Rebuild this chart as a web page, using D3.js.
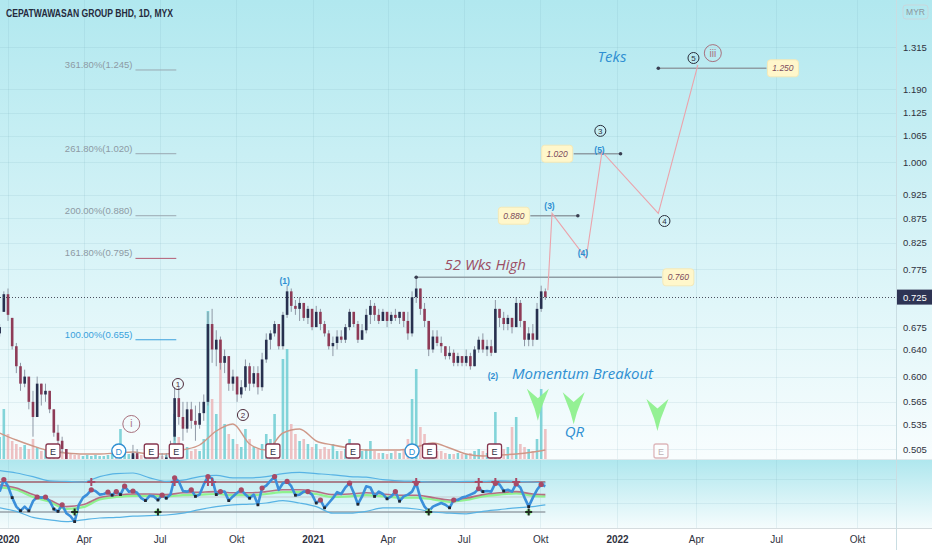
<!DOCTYPE html>
<html>
<head>
<meta charset="utf-8">
<script src="https://cdn.jsdelivr.net/npm/d3@7"></script>
<style>
  body { margin: 0; background: #ffffff; }
  svg { display: block; font-family: "Liberation Sans", Arial, sans-serif; }
</style>
</head>
<body>
<div id="chart"></div>
<script>
// ---- candles, one every 5 calendar days starting 22 Dec 2019 ----
var CANDLE_START = "2019-12-22";
var CANDLE_STEP_DAYS = 5;
var OPEN = [0.665,0.70,0.73,0.69,0.645,0.615,0.59,0.60,0.565,0.545,
  0.59,0.575,0.58,0.555,0.525,0.515,0.505,0.48,0.455,0.43,
  0.40,0.41,0.425,0.43,0.44,0.445,0.45,0.455,0.46,0.455,
  0.465,0.47,0.485,0.50,0.485,0.475,0.48,0.475,0.485,0.49,
  0.485,0.495,0.52,0.57,0.545,0.53,0.555,0.54,0.535,0.55,
  0.565,0.68,0.64,0.655,0.62,0.63,0.59,0.60,0.575,0.585,
  0.615,0.59,0.605,0.585,0.625,0.655,0.665,0.68,0.645,0.695,
  0.735,0.71,0.705,0.715,0.69,0.705,0.675,0.70,0.68,0.665,
  0.645,0.65,0.66,0.655,0.675,0.70,0.68,0.655,0.67,0.695,
  0.71,0.695,0.685,0.70,0.685,0.695,0.69,0.70,0.685,0.665,
  0.725,0.74,0.705,0.685,0.64,0.66,0.65,0.645,0.63,0.635,
  0.62,0.63,0.62,0.63,0.615,0.64,0.655,0.64,0.645,0.635,
  0.705,0.69,0.68,0.69,0.675,0.715,0.685,0.655,0.665,0.655,
  0.705,0.735];
var HIGH = [0.68,0.735,0.74,0.69,0.65,0.62,0.61,0.595,0.58,0.60,
  0.59,0.59,0.58,0.555,0.535,0.52,0.505,0.49,0.465,0.44,
  0.42,0.43,0.44,0.45,0.45,0.46,0.465,0.47,0.47,0.47,
  0.48,0.49,0.51,0.505,0.49,0.485,0.49,0.49,0.495,0.50,
  0.50,0.515,0.585,0.585,0.565,0.565,0.565,0.56,0.565,0.575,
  0.70,0.705,0.67,0.66,0.64,0.63,0.61,0.60,0.595,0.625,
  0.62,0.615,0.615,0.635,0.665,0.67,0.685,0.68,0.70,0.745,
  0.74,0.72,0.725,0.715,0.71,0.705,0.71,0.705,0.685,0.67,
  0.66,0.67,0.67,0.68,0.705,0.70,0.685,0.68,0.705,0.72,
  0.715,0.705,0.705,0.70,0.70,0.705,0.70,0.70,0.70,0.735,
  0.76,0.74,0.715,0.685,0.67,0.67,0.66,0.645,0.645,0.64,
  0.635,0.63,0.64,0.635,0.645,0.66,0.665,0.655,0.655,0.72,
  0.705,0.70,0.695,0.69,0.725,0.72,0.685,0.675,0.68,0.715,
  0.745,0.74];
var LOW = [0.66,0.70,0.685,0.64,0.605,0.58,0.585,0.555,0.52,0.545,
  0.56,0.565,0.55,0.52,0.51,0.50,0.475,0.45,0.42,0.39,
  0.385,0.40,0.415,0.42,0.43,0.435,0.44,0.445,0.45,0.45,
  0.455,0.465,0.48,0.48,0.47,0.465,0.47,0.47,0.475,0.48,
  0.48,0.49,0.515,0.535,0.515,0.525,0.53,0.515,0.53,0.54,
  0.56,0.62,0.615,0.61,0.605,0.58,0.58,0.565,0.57,0.58,
  0.58,0.585,0.575,0.58,0.62,0.64,0.66,0.64,0.64,0.69,
  0.70,0.695,0.685,0.685,0.68,0.67,0.675,0.67,0.66,0.64,
  0.63,0.64,0.65,0.65,0.67,0.675,0.65,0.655,0.665,0.68,
  0.685,0.68,0.685,0.675,0.68,0.685,0.68,0.675,0.655,0.66,
  0.715,0.695,0.675,0.63,0.635,0.645,0.635,0.625,0.625,0.615,
  0.615,0.615,0.615,0.61,0.615,0.635,0.635,0.63,0.63,0.635,
  0.675,0.67,0.67,0.665,0.675,0.675,0.645,0.645,0.645,0.655,
  0.70,0.72];
var CLOSE = [0.675,0.73,0.695,0.645,0.615,0.59,0.60,0.565,0.545,0.59,
  0.575,0.58,0.555,0.525,0.515,0.505,0.48,0.455,0.43,0.40,
  0.41,0.425,0.43,0.44,0.445,0.45,0.455,0.46,0.455,0.465,
  0.47,0.485,0.50,0.485,0.475,0.48,0.475,0.485,0.49,0.485,
  0.495,0.51,0.57,0.545,0.53,0.555,0.54,0.535,0.55,0.565,
  0.68,0.64,0.655,0.62,0.63,0.59,0.60,0.575,0.585,0.615,
  0.59,0.605,0.585,0.625,0.655,0.665,0.68,0.645,0.695,0.735,
  0.71,0.705,0.715,0.69,0.705,0.675,0.70,0.68,0.665,0.645,
  0.65,0.66,0.655,0.675,0.70,0.68,0.655,0.67,0.695,0.71,
  0.695,0.685,0.70,0.685,0.695,0.69,0.70,0.685,0.665,0.725,
  0.74,0.705,0.685,0.64,0.66,0.65,0.645,0.63,0.635,0.62,
  0.63,0.62,0.63,0.615,0.64,0.655,0.64,0.645,0.635,0.705,
  0.69,0.68,0.69,0.675,0.715,0.685,0.655,0.665,0.655,0.705,
  0.735,0.725];
var VOLUME = [22,50,25,18,15,12,14,10,20,12, 8,10,8,10,14,8,6,5,4,4,
  3,4,3,4,3,3,4,5,8,30, 6,5,4,3,4,3,3,4,3,3,
  4,12,45,22,15,12,8,10,8,20, 148,60,45,120,35,25,20,15,12,30,
  20,12,10,15,25,20,45,15,100,110, 35,25,18,20,15,12,15,10,12,10,
  15,8,8,10,20,12,8,8,10,18, 8,6,6,5,6,8,6,10,20,60,
  90,32,25,15,10,8,8,6,5,5, 6,5,5,6,8,10,8,6,8,47,
  15,10,12,32,42,15,12,10,8,20, 70,30];
// oscillator in the lower pane, one value per candle
var OSC = [59,79,68,49,34,27,34,27,43,50, 49,50,43,30,26,37,23,18,9,37,
  49,54,62,60,54,55,58,53,59,54, 68,59,60,57,48,44,52,51,45,53,
  48,54,82,76,60,59,62,51,54,71, 84,81,54,59,59,44,51,57,62,54,
  48,54,37,65,69,77,84,62,73,76, 68,53,54,59,59,54,40,45,32,40,
  48,58,55,66,73,57,38,51,68,66, 51,59,55,47,51,59,43,51,54,59,
  73,48,34,26,34,37,40,37,32,45, 45,49,51,54,57,64,59,60,59,73,
  71,60,62,59,72,66,49,34,49,62, 71,68];
var OSC_PEAKS = [1,9,11,15,22,26,28,30,32,39,42,46,50,53,58,63,66,69,74,77,84,95,100,109,115,119,124,130];
var OSC_TROUGHS = [3,5,7,13,14,18,27,29,35,38,40,47,52,55,60,62,71,76,78,86,90,93,96,103,108,116,121,127];
var OSC_OB_CROSS = [22,42,50,51,100,115,119,124];
var OSC_OS_CROSS = [18,38,103,127];
var OSC_LEVELS = [75, 50, 25];
// smoother series, sampled every 4th candle plus the last one
var UPPER_BAND = [94,90,84,77,76,75,84,89,90,82,76,78,84,86,82,82,84,89,91,89,87,84,83,79,77,76,75,75,76,76,77,76,75,73];
var LOWER_BAND = [32,26,16,12,9,12,15,16,18,19,20,23,29,34,37,38,40,44,40,34,23,23,26,32,32,30,25,23,22,26,29,32,34,37];
var RED_MA = [70,65,54,45,34,37,49,53,55,55,54,57,58,59,57,57,59,62,62,59,54,55,57,55,53,53,49,45,48,54,57,59,55,54];
var GREEN_MA = [66,62,50,42,30,33,46,50,52,52,51,53,54,55,53,53,55,58,58,55,50,51,53,51,49,49,46,42,45,51,54,56,52,51];
var VOL_MA = [26,19,13,8,6,5,5,6,7,5,5,9,14,28,35,15,9,26,30,18,14,11,9,9,9,12,16,11,5,3,4,5,7,9];

// ---- axes ----
var PRICE_TICKS = [1.315,1.190,1.125,1.065,1.000,0.925,0.875,0.825,0.775,0.675,0.640,0.600,0.565,0.535,0.505];
var OSC_TICKS = [80, 40, 0];
var TIME_TICKS = ["2020-01-01","2020-04-01","2020-07-01","2020-10-01","2021-01-01","2021-04-01","2021-07-01","2021-10-01","2022-01-01","2022-04-01","2022-07-01","2022-10-01"];
var TIME_LABELS = ["2020","Apr","Jul","Okt","2021","Apr","Jul","Okt","2022","Apr","Jul","Okt"];

// ---- drawings ----
var EARNINGS = ["2020-02-24","2020-06-21","2020-07-21","2020-11-14","2021-02-18","2021-05-21","2021-08-07"];
var EARNINGS_NEXT = ["2022-02-20"];
var DIVIDENDS = ["2020-05-13","2021-04-30"];
var FIB_PCT = ["361.80%","261.80%","200.00%","161.80%","100.00%"];
var FIB_PRICE = [1.245, 1.020, 0.880, 0.795, 0.655];
var FIB_FROM = "2020-06-02", FIB_TO = "2020-07-21";
var WAVE_DATES = ["2021-10-10","2021-10-15","2021-11-25","2021-12-14","2022-02-17","2022-04-03"];
var WAVE_PRICES = [0.737, 0.885, 0.795, 1.025, 0.885, 1.26];
var HLINE_PRICE = [0.760, 0.880, 1.020, 1.250];
var HLINE_FROM = ["2021-05-05","2021-09-19","2021-11-10","2022-02-17"];
var HLINE_TO = ["2022-02-21","2021-11-15","2022-01-05","2022-06-20"];
var ARROW_DATES = ["2021-09-28","2021-11-10","2022-02-16"];
var ARROW_PRICES = [0.583, 0.578, 0.569];
var LABELS = [
  { text: "(1)", date: "2020-11-28", price: 0.753, kind: "wave" },
  { text: "(2)", date: "2021-08-05", price: 0.601, kind: "wave" },
  { text: "(3)", date: "2021-10-12", price: 0.901, kind: "wave" },
  { text: "(4)", date: "2021-11-21", price: 0.805, kind: "wave" },
  { text: "(5)", date: "2021-12-11", price: 1.029, kind: "wave" },
  { text: "3", date: "2021-12-12", price: 1.077, kind: "circle" },
  { text: "4", date: "2022-02-24", price: 0.869, kind: "circle" },
  { text: "5", date: "2022-03-29", price: 1.281, kind: "circle" },
  { text: "1", date: "2020-07-23", price: 0.5895, kind: "circleDark" },
  { text: "2", date: "2020-10-09", price: 0.5476, kind: "circleDark" },
  { text: "iii", date: "2022-04-20", price: 1.296, kind: "roman" },
  { text: "i", date: "2020-05-28", price: 0.536, kind: "roman" },
  { text: "Teks", date: "2021-12-26", price: 1.284, kind: "note" },
  { text: "Momentum Breakout", date: "2021-08-28", price: 0.604, kind: "noteLeft" },
  { text: "QR", date: "2021-11-11", price: 0.526, kind: "note" },
  { text: "52 Wks High", date: "2021-06-08", price: 0.783, kind: "noteRed" }
];

function drawChart() {
  var W = 932, H = 550;
  var plotRight = 896;
  var mainBottom = 459, indTop = 460, indBottom = 528;
  var parse = d3.timeParse("%Y-%m-%d");

  var candleStart = parse(CANDLE_START);
  var dates = CLOSE.map(function (d, i) { return d3.timeDay.offset(candleStart, i * CANDLE_STEP_DAYS); });
  var sampleIdx = d3.range(0, CLOSE.length, 4).concat([CLOSE.length - 1]);
  var sampleDates = sampleIdx.map(function (i) { return dates[i]; });

  // tradingview spaces the future part a little wider
  var x = d3.scaleTime()
    .domain([parse("2020-01-01"), parse("2022-01-01"), parse("2022-10-01")])
    .range([8, 617, 857]);
  var y = d3.scaleLog().domain([0.505, 1.315]).range([449, 47]);
  var yOsc = d3.scaleLinear().domain([0, 80]).range([527, 479]);
  var yVol = d3.scaleLinear().domain([0, 150]).range([mainBottom, mainBottom - 150]);

  var svg = d3.select("#chart").append("svg").attr("width", W).attr("height", H);
  var defs = svg.append("defs");
  function gradient(id, c0, c1) {
    var g = defs.append("linearGradient").attr("id", id)
      .attr("x1", 0).attr("y1", 0).attr("x2", 0).attr("y2", 1);
    g.append("stop").attr("offset", "0%").attr("stop-color", c0);
    g.append("stop").attr("offset", "100%").attr("stop-color", c1);
  }
  gradient("bgMain", "#b1e8ef", "#f8fdfe");
  gradient("bgInd", "#afe7ee", "#f5fcfd");
  defs.append("clipPath").attr("id", "clipMain").append("rect")
    .attr("x", 0).attr("y", 0).attr("width", plotRight).attr("height", mainBottom);
  defs.append("clipPath").attr("id", "clipInd").append("rect")
    .attr("x", 0).attr("y", indTop).attr("width", plotRight).attr("height", indBottom - indTop);
  defs.append("clipPath").attr("id", "clipIndAxis").append("rect")
    .attr("x", plotRight).attr("y", indTop).attr("width", W - plotRight).attr("height", indBottom - indTop);

  // backgrounds
  svg.append("rect").attr("width", W).attr("height", H).attr("fill", "#ffffff");
  svg.append("rect").attr("width", W).attr("height", mainBottom).attr("fill", "url(#bgMain)");
  svg.append("rect").attr("y", indTop).attr("width", W).attr("height", indBottom - indTop).attr("fill", "url(#bgInd)");

  // grid
  var grid = svg.append("g").attr("stroke", "rgba(110,160,175,0.13)").attr("stroke-width", 1);
  grid.selectAll(".hg").data(PRICE_TICKS).enter().append("line")
    .attr("x1", 0).attr("x2", plotRight)
    .attr("y1", function (d) { return Math.round(y(d)) + 0.5; })
    .attr("y2", function (d) { return Math.round(y(d)) + 0.5; });
  grid.selectAll(".vg").data(TIME_TICKS).enter().append("line")
    .attr("y1", 0).attr("y2", indBottom)
    .attr("x1", function (d) { return Math.round(x(parse(d))) + 0.5; })
    .attr("x2", function (d) { return Math.round(x(parse(d))) + 0.5; });
  grid.selectAll(".ig").data([80, 40]).enter().append("line")
    .attr("x1", 0).attr("x2", plotRight)
    .attr("y1", function (d) { return yOsc(d) + 0.5; })
    .attr("y2", function (d) { return yOsc(d) + 0.5; });

  // ---- main pane ----
  var main = svg.append("g").attr("clip-path", "url(#clipMain)");
  var bw = 2.6;

  // volume
  main.append("g").selectAll("rect").data(VOLUME).enter().append("rect")
    .attr("x", function (d, i) { return x(dates[i]) - bw / 2; })
    .attr("y", function (d) { return yVol(d); })
    .attr("width", bw)
    .attr("height", function (d) { return mainBottom - yVol(d); })
    .attr("fill", function (d, i) { return CLOSE[i] >= OPEN[i] ? "#6fcdd2" : "#ebb6b8"; })
    .attr("opacity", 0.85);
  main.append("path")
    .datum(VOL_MA)
    .attr("fill", "none").attr("stroke", "#cf9888").attr("stroke-width", 1.4)
    .attr("d", d3.line()
      .x(function (d, i) { return x(sampleDates[i]); })
      .y(function (d) { return yVol(d); })
      .curve(d3.curveMonotoneX));

  // candles
  var candles = main.append("g").selectAll("g").data(CLOSE).enter().append("g");
  candles.append("line")
    .attr("x1", function (d, i) { return x(dates[i]); })
    .attr("x2", function (d, i) { return x(dates[i]); })
    .attr("y1", function (d, i) { return y(HIGH[i]); })
    .attr("y2", function (d, i) { return y(LOW[i]); })
    .attr("stroke", "#8f98a6").attr("stroke-width", 1);
  candles.append("rect")
    .attr("x", function (d, i) { return x(dates[i]) - bw / 2; })
    .attr("y", function (d, i) { return Math.min(y(OPEN[i]), y(d)); })
    .attr("width", bw)
    .attr("height", function (d, i) { return Math.max(1, Math.abs(y(OPEN[i]) - y(d))); })
    .attr("fill", function (d, i) { return d >= OPEN[i] ? "#27304f" : "#8e3b57"; });

  // last price dotted line
  var lastPrice = CLOSE[CLOSE.length - 1];
  svg.append("line")
    .attr("x1", 0).attr("x2", plotRight)
    .attr("y1", Math.round(y(lastPrice)) + 0.5).attr("y2", Math.round(y(lastPrice)) + 0.5)
    .attr("stroke", "#4b4f5e").attr("stroke-width", 1).attr("stroke-dasharray", "1,2");

  // fibonacci extension levels
  var fib = svg.append("g");
  FIB_PRICE.forEach(function (p, i) {
    var lineColor = i === 3 ? "#b35c74" : (i === 4 ? "#3aa1dc" : "#9aa8b1");
    var textColor = i === 4 ? "#3aa1dc" : "#8d9aa4";
    fib.append("line")
      .attr("x1", x(parse(FIB_FROM))).attr("x2", x(parse(FIB_TO)))
      .attr("y1", y(p)).attr("y2", y(p))
      .attr("stroke", lineColor).attr("stroke-width", 1);
    fib.append("text")
      .attr("x", x(parse(FIB_FROM)) - 3).attr("y", y(p) - 2)
      .attr("text-anchor", "end").attr("font-size", "9.5px").attr("fill", textColor)
      .text(FIB_PCT[i] + "(" + d3.format(".3f")(p) + ")");
  });

  // horizontal rays with value boxes
  var boxAtEnd = [true, false, false, true];
  var rays = svg.append("g");
  HLINE_PRICE.forEach(function (p, i) {
    var x1 = x(parse(HLINE_FROM[i])), x2 = x(parse(HLINE_TO[i])), yy = y(p);
    rays.append("line").attr("x1", x1).attr("x2", x2).attr("y1", yy).attr("y2", yy)
      .attr("stroke", "#8f9da4").attr("stroke-width", 1.5);
    var dotX = boxAtEnd[i] ? x1 : x2;
    rays.append("circle").attr("cx", dotX).attr("cy", yy).attr("r", 1.8).attr("fill", "#3a3f52");
    var bx = boxAtEnd[i] ? x2 + 1 : x1 - 32;
    rays.append("rect").attr("x", bx).attr("y", yy - 8.5).attr("width", 31).attr("height", 17)
      .attr("rx", 3).attr("fill", "#fff7cb").attr("stroke", "#f4e9b8");
    rays.append("text").attr("x", bx + 15.5).attr("y", yy + 3)
      .attr("text-anchor", "middle").attr("font-size", "8.5px").attr("font-style", "italic")
      .attr("fill", "#7b4b5c").text(d3.format(".3f")(p));
  });

  // projected wave path
  svg.append("path")
    .datum(WAVE_PRICES)
    .attr("fill", "none").attr("stroke", "#eba3ab").attr("stroke-width", 1.1)
    .attr("d", d3.line()
      .x(function (d, i) { return x(parse(WAVE_DATES[i])); })
      .y(function (d) { return y(d); }));

  // green arrow marks
  svg.append("g").selectAll("path").data(ARROW_PRICES).enter().append("path")
    .attr("fill", "#8ef08e").attr("opacity", 0.95)
    .attr("d", function (d, i) {
      var cx = x(parse(ARROW_DATES[i])), t = y(d), w = 22, h = 32;
      return "M" + (cx - w / 2) + "," + t +
        "L" + cx + "," + (t + h * 0.3) +
        "L" + (cx + w / 2) + "," + t +
        "L" + (cx + w * 0.15) + "," + (t + h * 0.62) +
        "L" + cx + "," + (t + h) +
        "L" + (cx - w * 0.15) + "," + (t + h * 0.62) + "Z";
    });

  // labels
  var lab = svg.append("g");
  LABELS.forEach(function (l) {
    var lx = x(parse(l.date)), ly = y(l.price);
    if (l.kind === "wave") {
      lab.append("text").attr("x", lx).attr("y", ly + 3).attr("text-anchor", "middle")
        .attr("font-size", "8.5px").attr("font-weight", "bold").attr("fill", "#2f8fd2").text(l.text);
    } else if (l.kind === "circle" || l.kind === "circleDark") {
      var c = l.kind === "circle" ? "#2a2e3c" : "#4d2a3a";
      lab.append("circle").attr("cx", lx).attr("cy", ly).attr("r", 5.5)
        .attr("fill", "none").attr("stroke", c).attr("stroke-width", 1);
      lab.append("text").attr("x", lx).attr("y", ly + 3).attr("text-anchor", "middle")
        .attr("font-size", "8px").attr("fill", c).text(l.text);
    } else if (l.kind === "roman") {
      lab.append("circle").attr("cx", lx).attr("cy", ly).attr("r", 8.5)
        .attr("fill", "none").attr("stroke", "#a8717e").attr("stroke-width", 1);
      lab.append("text").attr("x", lx).attr("y", ly + 3.5).attr("text-anchor", "middle")
        .attr("font-size", "10px").attr("fill", "#a8717e").text(l.text);
    } else {
      lab.append("text").attr("x", lx).attr("y", ly + 5)
        .attr("text-anchor", l.kind === "note" ? "middle" : "start")
        .attr("font-family", "'Open Sans', sans-serif")
        .attr("font-size", "15px").attr("font-style", "italic")
        .attr("fill", l.kind === "noteRed" ? "#9c4e64" : "#2f8fd2")
        .text(l.text);
    }
  });

  // earnings and dividend markers
  var ev = svg.append("g").attr("font-size", "9px").attr("text-anchor", "middle");
  EARNINGS.concat(EARNINGS_NEXT).forEach(function (d, i) {
    var future = i >= EARNINGS.length;
    var ex = x(parse(d));
    ev.append("rect").attr("x", ex - 7).attr("y", 444).attr("width", 14).attr("height", 14).attr("rx", 2)
      .attr("fill", future ? "rgba(255,255,255,0.6)" : "#ffffff")
      .attr("stroke", future ? "#ddb6ba" : "#86364f").attr("stroke-width", 1.3);
    ev.append("text").attr("x", ex).attr("y", 454.5)
      .attr("fill", future ? "#bdb3b6" : "#2c2f3e").text("E");
  });
  DIVIDENDS.forEach(function (d) {
    var dx = x(parse(d));
    ev.append("circle").attr("cx", dx).attr("cy", 451).attr("r", 7)
      .attr("fill", "#ffffff").attr("stroke", "#2f8fd2").attr("stroke-width", 1.4);
    ev.append("text").attr("x", dx).attr("y", 454.5).attr("fill", "#2f8fd2").text("D");
  });

  // ---- oscillator pane ----
  var ind = svg.append("g").attr("clip-path", "url(#clipInd)");
  var x0 = x(dates[0]), x1 = x(dates[dates.length - 1]);
  var lvlColor = ["#a9808b", "#c3cbcf", "#97a2a8"];
  var lvlWidth = [2, 1, 1.5];
  OSC_LEVELS.forEach(function (v, i) {
    ind.append("line").attr("x1", x0).attr("x2", x1).attr("y1", yOsc(v)).attr("y2", yOsc(v))
      .attr("stroke", lvlColor[i]).attr("stroke-width", lvlWidth[i]);
  });
  var sampleLine = d3.line()
    .x(function (d, i) { return x(sampleDates[i]); })
    .y(function (d) { return yOsc(d); })
    .curve(d3.curveMonotoneX);
  [UPPER_BAND, LOWER_BAND].forEach(function (s) {
    ind.append("path").datum(s).attr("fill", "none").attr("stroke", "#58b3e4")
      .attr("stroke-width", 1.2).attr("d", sampleLine);
  });
  ind.append("path").datum(GREEN_MA).attr("fill", "none").attr("stroke", "#8ff28f")
    .attr("stroke-width", 2.2).attr("d", sampleLine);
  ind.append("path").datum(RED_MA).attr("fill", "none").attr("stroke", "#b0566e")
    .attr("stroke-width", 1.6).attr("opacity", 0.85).attr("d", sampleLine);
  ind.append("path").datum(OSC).attr("fill", "none").attr("stroke", "#3b8fda")
    .attr("stroke-width", 2.6).attr("stroke-linejoin", "round")
    .attr("d", d3.line()
      .x(function (d, i) { return x(dates[i]); })
      .y(function (d) { return yOsc(d); }));
  ind.append("g").selectAll("circle").data(OSC_PEAKS).enter().append("circle")
    .attr("cx", function (i) { return x(dates[i]); })
    .attr("cy", function (i) { return yOsc(OSC[i]); })
    .attr("r", 2.6).attr("fill", "#a84a66");
  ind.append("g").selectAll("rect").data(OSC_TROUGHS).enter().append("rect")
    .attr("x", function (i) { return x(dates[i]) - 1.4; })
    .attr("y", function (i) { return yOsc(OSC[i]) - 1.4; })
    .attr("width", 2.8).attr("height", 2.8).attr("fill", "#22252f");
  function cross(g, cx, cy, color, s) {
    g.append("path").attr("d", "M" + (cx - s) + "," + cy + "H" + (cx + s) + "M" + cx + "," + (cy - s) + "V" + (cy + s))
      .attr("stroke", color).attr("stroke-width", 2);
  }
  OSC_OB_CROSS.forEach(function (i) { cross(ind, x(dates[i]), yOsc(75), "#a84a66", 4); });
  OSC_OS_CROSS.forEach(function (i) {
    ind.append("circle").attr("cx", x(dates[i])).attr("cy", yOsc(25)).attr("r", 3).attr("fill", "#9cf59c");
    cross(ind, x(dates[i]), yOsc(25), "#1f2a22", 3.5);
  });

  // pane separators
  svg.append("line").attr("x1", 0).attr("x2", W).attr("y1", mainBottom + 0.5).attr("y2", mainBottom + 0.5)
    .attr("stroke", "#e1e9ec");
  svg.append("line").attr("x1", 0).attr("x2", W).attr("y1", indBottom + 0.5).attr("y2", indBottom + 0.5)
    .attr("stroke", "#d5dcdf");
  svg.append("line").attr("x1", plotRight + 0.5).attr("x2", plotRight + 0.5).attr("y1", 0).attr("y2", H)
    .attr("stroke", "#c9dde2");

  // ---- axes ----
  var yAxis = svg.append("g").attr("transform", "translate(" + plotRight + ",0)")
    .call(d3.axisRight(y).tickValues(PRICE_TICKS).tickFormat(d3.format(".3f")).tickSize(0).tickPadding(7));
  yAxis.select(".domain").remove();
  yAxis.selectAll("text").attr("font-size", "9.5px").attr("fill", "#2f3240")
    .attr("font-family", "'Liberation Sans', Arial, sans-serif");

  var oAxis = svg.append("g").attr("transform", "translate(" + plotRight + ",0)")
    .attr("clip-path", "url(#clipIndAxis)")
    .call(d3.axisRight(yOsc).tickValues(OSC_TICKS).tickFormat(d3.format(".1f")).tickSize(0).tickPadding(7));
  oAxis.select(".domain").remove();
  oAxis.selectAll("text").attr("font-size", "9.5px").attr("fill", "#2f3240")
    .attr("font-family", "'Liberation Sans', Arial, sans-serif");

  var xAxis = svg.append("g").attr("transform", "translate(0," + indBottom + ")")
    .call(d3.axisBottom(x).tickValues(TIME_TICKS.map(parse))
      .tickFormat(function (d, i) { return TIME_LABELS[i]; }).tickSize(0).tickPadding(8));
  xAxis.select(".domain").remove();
  xAxis.selectAll("text").attr("font-size", "10px").attr("fill", "#2f3240")
    .attr("font-family", "'Liberation Sans', Arial, sans-serif")
    .attr("font-weight", function (d, i) { return i % 4 === 0 ? "bold" : "normal"; });

  // current price tag
  var py = y(lastPrice);
  svg.append("rect").attr("x", plotRight + 1).attr("y", py - 7.5).attr("width", W - plotRight - 1).attr("height", 15)
    .attr("fill", "#2e3454");
  svg.append("text").attr("x", plotRight + 7).attr("y", py + 3.5)
    .attr("font-size", "9.5px").attr("fill", "#ffffff").text(d3.format(".3f")(lastPrice));

  // currency badge
  svg.append("rect").attr("x", 903).attr("y", 5).attr("width", 25).attr("height", 14).attr("rx", 3)
    .attr("fill", "none").attr("stroke", "#c9d6db");
  svg.append("text").attr("x", 915.5).attr("y", 15).attr("text-anchor", "middle")
    .attr("font-size", "8.5px").attr("fill", "#8a949b").text("MYR");

  // title
  svg.append("text").attr("x", 6).attr("y", 17)
    .attr("font-size", "11px").attr("font-weight", "bold").attr("fill", "#262b3d")
    .attr("textLength", 167).attr("lengthAdjust", "spacingAndGlyphs")
    .text("CEPATWAWASAN GROUP BHD, 1D, MYX");
}

window.onload = function () {
  drawChart();
};
</script>
</body>
</html>
